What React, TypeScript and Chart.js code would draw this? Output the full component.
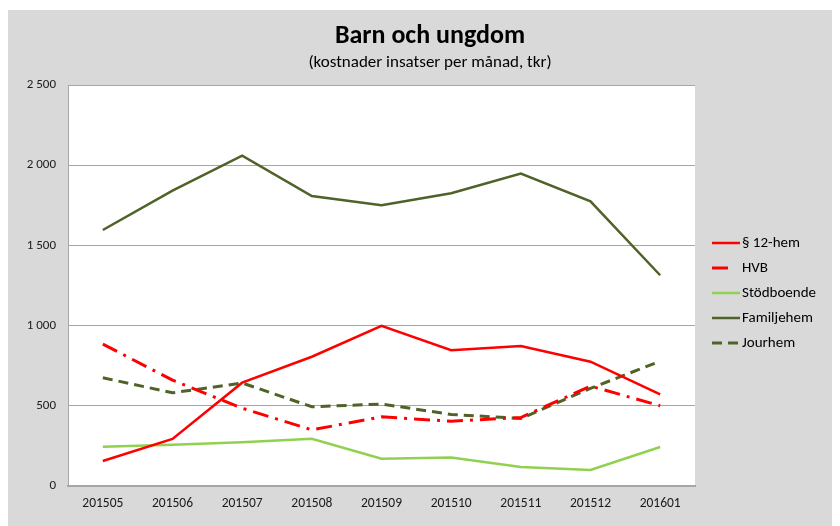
import React, { useEffect, useRef } from "react";
import { Chart, registerables } from "chart.js";

Chart.register(...registerables);

const categories = ["201505", "201506", "201507", "201508", "201509", "201510", "201511", "201512", "201601"];
const hem12 = [156, 293, 644, 806, 998, 846, 873, 775, 571];
const hvb = [885, 660, 485, 350, 431, 404, 427, 623, 500];
const stodboende = [245, 257, 272, 295, 170, 177, 118, 100, 243];
const familjehem = [1596, 1841, 2060, 1808, 1751, 1825, 1948, 1775, 1314];
const jourhem = [675, 581, 642, 494, 511, 446, 421, 609, 778];
const seriesNames = ["§ 12-hem", "HVB", "Stödboende", "Familjehem", "Jourhem"];
const yTicks = [0, 500, 1000, 1500, 2000, 2500];
const titleText = "Barn och ungdom";
const subtitleText = "(kostnader insatser per månad, tkr)";

const FONT = "Carlito, Calibri, Lato, sans-serif";

export default function App() {
  const ref = useRef<HTMLCanvasElement | null>(null);
  useEffect(() => {
    if (!ref.current) return;
    const plotBg = {
      id: "plotBg",
      beforeDraw(chart: any) {
        const { ctx, chartArea: a } = chart;
        ctx.save();
        ctx.fillStyle = "#ffffff";
        ctx.fillRect(a.left, a.top, a.right - a.left, a.bottom - a.top);
        ctx.restore();
      },
    };
    const titles = {
      id: "titles",
      afterDraw(chart: any) {
        const { ctx } = chart;
        ctx.save();
        ctx.fillStyle = "#000000";
        ctx.textAlign = "center";
        ctx.textBaseline = "middle";
        ctx.font = `bold 26px ${FONT}`;
        ctx.fillText(titleText, 422, 26);
        ctx.font = `17px ${FONT}`;
        ctx.fillText(subtitleText, 422, 53);
        ctx.restore();
      },
    };
    const legend = {
      id: "customLegend",
      afterDraw(chart: any) {
        const { ctx } = chart;
        ctx.save();
        chart.data.datasets.forEach((ds: any, i: number) => {
          const y = 233 + i * 25;
          ctx.strokeStyle = ds.borderColor;
          ctx.lineWidth = ds.borderWidth;
          ctx.setLineDash(ds.borderDash || []);
          ctx.beginPath();
          ctx.moveTo(704, y);
          ctx.lineTo(i === 1 ? 724 : 732, y);
          ctx.stroke();
          ctx.setLineDash([]);
          ctx.fillStyle = "#000000";
          ctx.font = `15px ${FONT}`;
          ctx.textAlign = "left";
          ctx.textBaseline = "middle";
          ctx.fillText(ds.label, 734, y);
        });
        ctx.restore();
      },
    };
    const chart = new Chart(ref.current, {
      type: "line",
      data: {
        labels: categories,
        datasets: [
          { label: seriesNames[0], data: hem12, borderColor: "#ff0000", borderWidth: 2.5, pointRadius: 0, tension: 0 },
          { label: seriesNames[1], data: hvb, borderColor: "#ff0000", borderWidth: 3, borderDash: [16, 7, 3, 7], pointRadius: 0, tension: 0 },
          { label: seriesNames[2], data: stodboende, borderColor: "#92d050", borderWidth: 2.5, pointRadius: 0, tension: 0 },
          { label: seriesNames[3], data: familjehem, borderColor: "#4f6228", borderWidth: 2.5, pointRadius: 0, tension: 0 },
          { label: seriesNames[4], data: jourhem, borderColor: "#4f6228", borderWidth: 3, borderDash: [10, 6], pointRadius: 0, tension: 0 },
        ],
      },
      options: {
        animation: false,
        responsive: false,
        layout: { padding: { top: 75, right: 145, bottom: 0, left: 0 } },
        plugins: { legend: { display: false }, title: { display: false }, tooltip: { enabled: false } },
        scales: {
          x: {
            offset: true,
            grid: { display: false, drawTicks: false },
            border: { display: true, color: "#a6a6a6", width: 2 },
            ticks: { color: "#1a1a1a", font: { family: FONT, size: 13.5 }, padding: 10, maxRotation: 0, autoSkip: false },
            afterFit(s: any) { s.height = 40; },
          },
          y: {
            min: 0,
            max: 2500,
            afterBuildTicks(s: any) { s.ticks = yTicks.map((v) => ({ value: v })); },
            grid: { color: "#a6a6a6", lineWidth: 1, drawTicks: false },
            border: { display: true, color: "#a6a6a6", width: 1 },
            ticks: {
              color: "#1a1a1a",
              font: { family: FONT, size: 13 },
              padding: 12,
              callback: (v: any) => String(v).replace(/\B(?=(\d{3})+(?!\d))/g, " "),
            },
            afterFit(s: any) { s.width = 60; },
          },
        },
      },
      plugins: [plotBg, titles, legend],
    });
    return () => chart.destroy();
  }, []);
  return (
    <div style={{ marginTop: 2, width: 832, height: 516, background: "#d9d9d9" }}>
      <canvas ref={ref} width={832} height={516} style={{ display: "block" }} />
    </div>
  );
}
